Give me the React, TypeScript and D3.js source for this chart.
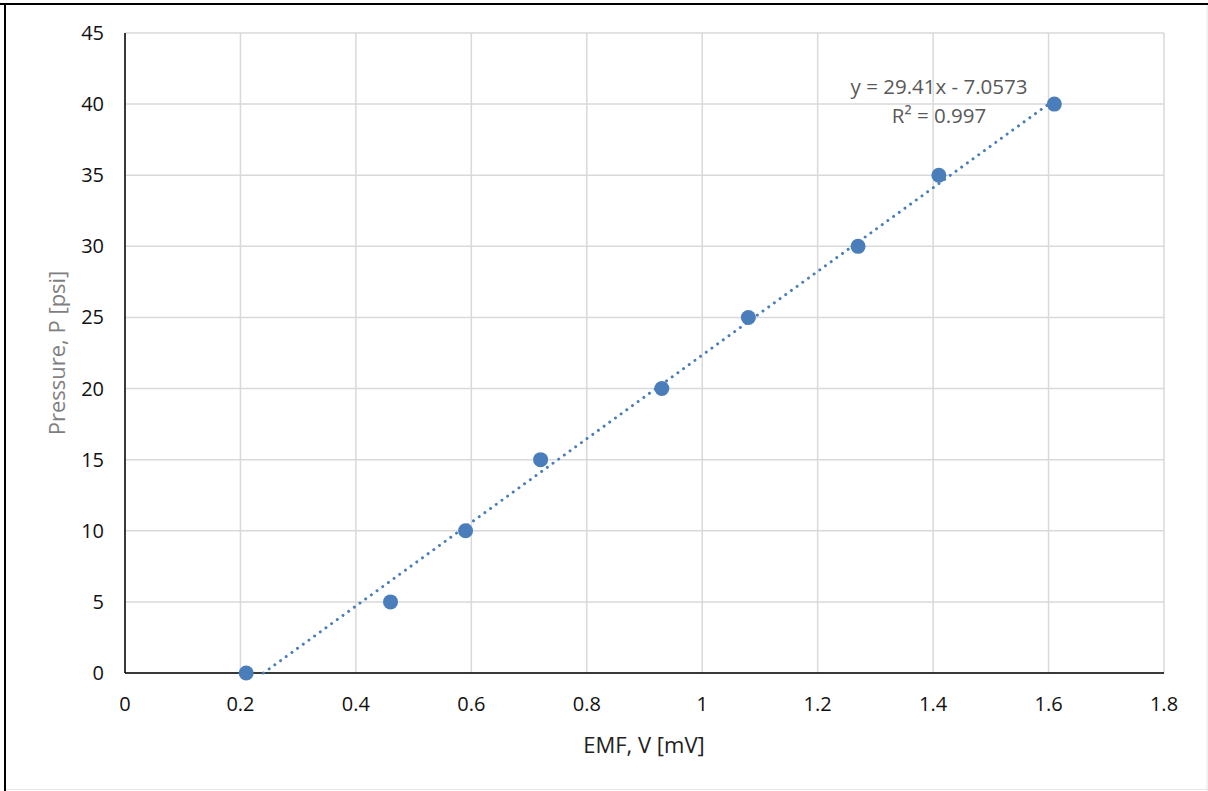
import React from "react";
import * as d3 from "d3";

// Calibration data: thermocouple EMF vs applied pressure
const emfValues = [0.21, 0.46, 0.59, 0.72, 0.93, 1.08, 1.27, 1.41, 1.61];
const pressureValues = [0, 5, 10, 15, 20, 25, 30, 35, 40];
const xTicks = [0, 0.2, 0.4, 0.6, 0.8, 1, 1.2, 1.4, 1.6, 1.8];
const yTicks = [0, 5, 10, 15, 20, 25, 30, 35, 40, 45];
const fitSlope = 29.41;
const fitIntercept = -7.0573;
const fitR2 = 0.997;

const W = 1208;
const H = 791;
const FONT = "'Open Sans', 'Noto Sans', sans-serif";

export default function App() {
  const x = d3.scaleLinear().domain([0, 1.8]).range([125, 1164]);
  const y = d3.scaleLinear().domain([0, 45]).range([673, 33]);

  // trend line over the data range, clipped to the visible y-range
  const x0 = Math.max(d3.min(emfValues)!, (0 - fitIntercept) / fitSlope);
  const x1 = d3.max(emfValues)!;
  const line = d3
    .line<number>()
    .x((d) => x(d))
    .y((d) => y(fitSlope * d + fitIntercept));
  const fitPath = line([x0, x1]) || "";

  const points = emfValues.map((v, i) => ({ v, p: pressureValues[i] }));

  return (
    <svg
      width={W}
      height={H}
      style={{ position: "absolute", left: 0, top: 0, background: "#fff" }}
      fontFamily={FONT}
    >
      <rect x={0} y={0} width={W} height={H} fill="#fff" />
      {/* frame */}
      <line x1={0} x2={W} y1={4} y2={4} stroke="#000" strokeWidth={2} />
      <line x1={5} x2={5} y1={3} y2={H} stroke="#000" strokeWidth={2} />
      <line x1={W - 1} x2={W - 1} y1={5} y2={H} stroke="#e6e6e6" strokeWidth={1} />
      <line x1={6} x2={W} y1={H - 1.5} y2={H - 1.5} stroke="#e6e6e6" strokeWidth={1} />

      {/* gridlines */}
      {yTicks.map((t) => (
        <line
          key={"gy" + t}
          x1={x(0)}
          x2={x(1.8)}
          y1={y(t)}
          y2={y(t)}
          stroke="#d9d9d9"
          strokeWidth={1.5}
        />
      ))}
      {xTicks.map((t) => (
        <line
          key={"gx" + t}
          x1={x(t)}
          x2={x(t)}
          y1={y(0)}
          y2={y(45)}
          stroke="#d9d9d9"
          strokeWidth={1.5}
        />
      ))}

      {/* axes */}
      <line x1={x(0)} x2={x(0)} y1={y(45)} y2={y(0)} stroke="#000" strokeWidth={1.5} />
      <line x1={x(0)} x2={x(1.8)} y1={y(0)} y2={y(0)} stroke="#000" strokeWidth={1.5} />

      {/* tick labels */}
      {yTicks.map((t) => (
        <text
          key={"ty" + t}
          x={104}
          y={y(t)}
          dy="0.35em"
          textAnchor="end"
          fontSize={20}
          fill="#111"
        >
          {t}
        </text>
      ))}
      {xTicks.map((t) => (
        <text
          key={"tx" + t}
          x={x(t)}
          y={704}
          dy="0.35em"
          textAnchor="middle"
          fontSize={20}
          fill="#111"
        >
          {t}
        </text>
      ))}

      {/* axis titles */}
      <text
        x={644}
        y={745}
        dy="0.35em"
        textAnchor="middle"
        fontSize={22}
        fill="#222"
      >
        EMF, V [mV]
      </text>
      <text
        transform={`translate(57, ${(y(0) + y(45)) / 2}) rotate(-90)`}
        dy="0.35em"
        textAnchor="middle"
        fontSize={22}
        fill="#7f7f7f"
      >
        Pressure, P [psi]
      </text>

      {/* linear fit */}
      <path
        d={fitPath}
        fill="none"
        stroke="#4a7ebb"
        strokeWidth={3}
        strokeLinecap="round"
        strokeDasharray="0.01 7"
      />

      {/* data points */}
      {points.map((d, i) => (
        <circle key={i} cx={x(d.v)} cy={y(d.p)} r={7.5} fill="#4a7ebb" />
      ))}

      {/* fit label */}
      <text x={939} y={87} dy="0.35em" textAnchor="middle" fontSize={20.5} fill="#595959">
        {`y = ${fitSlope}x - ${Math.abs(fitIntercept)}`}
      </text>
      <text x={939} y={116} dy="0.35em" textAnchor="middle" fontSize={20.5} fill="#595959">
        {`R² = ${fitR2}`}
      </text>
    </svg>
  );
}
